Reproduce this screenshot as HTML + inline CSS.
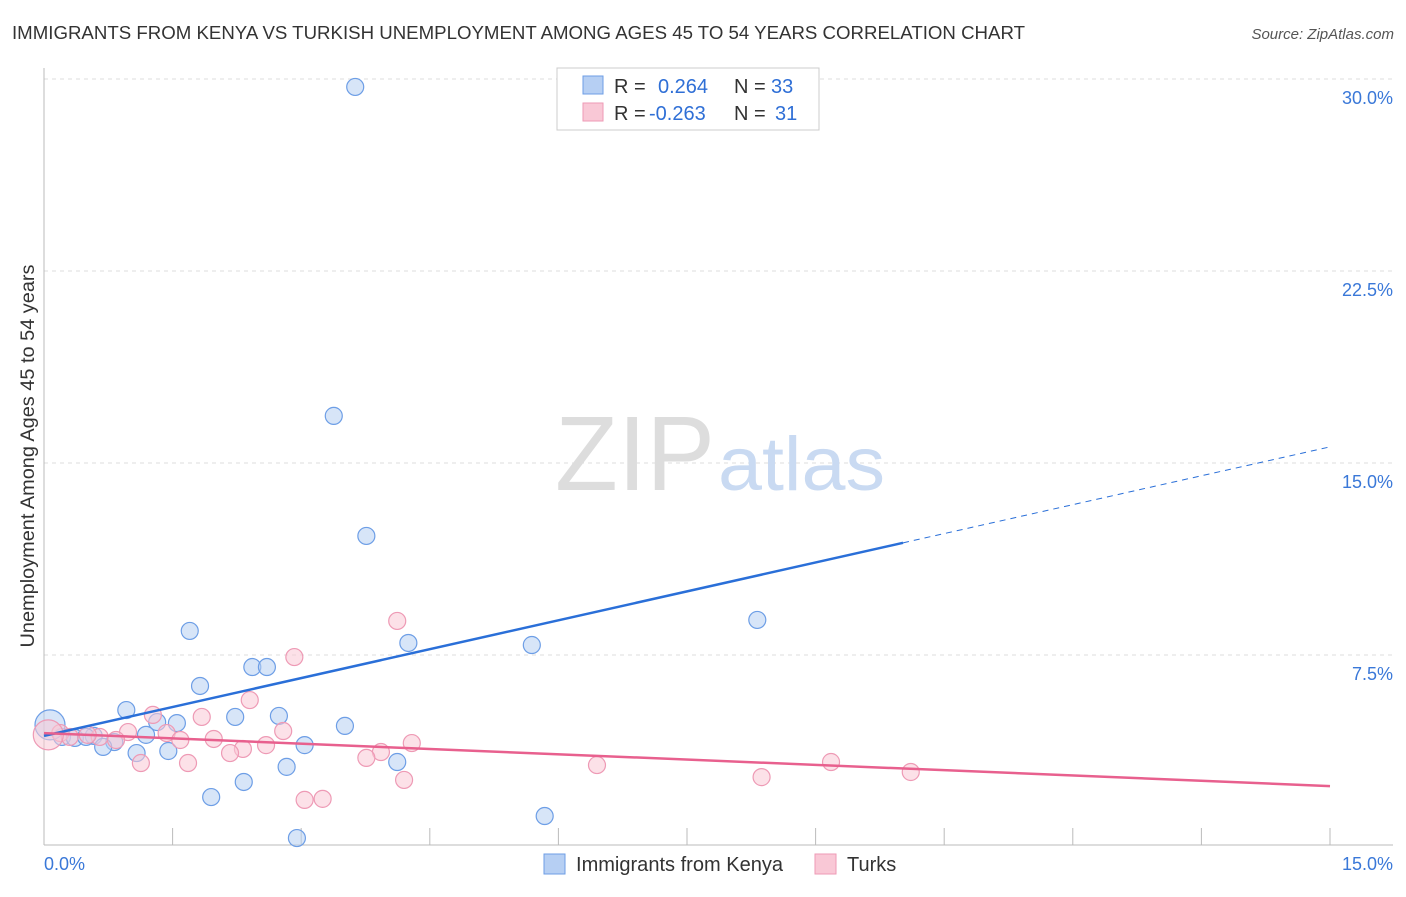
<!DOCTYPE html>
<html><head><meta charset="utf-8"><style>
body{margin:0;background:#fff;font-family:"Liberation Sans",sans-serif;}
svg text{font-family:"Liberation Sans",sans-serif;}
</style></head><body>
<svg width="1406" height="892">
<text x="12" y="39" font-size="18.5" fill="#333" textLength="1013" lengthAdjust="spacingAndGlyphs">IMMIGRANTS FROM KENYA VS TURKISH UNEMPLOYMENT AMONG AGES 45 TO 54 YEARS CORRELATION CHART</text>
<text x="1394" y="39" font-size="15" fill="#555" font-style="italic" text-anchor="end">Source: ZipAtlas.com</text>
<g id="grid"></g>
<text x="555" y="490" font-size="106" fill="#ddd" textLength="160" lengthAdjust="spacingAndGlyphs" font-family="Liberation Serif">ZIP</text>
<text x="718" y="490" font-size="76" fill="#c9daf2" textLength="167" lengthAdjust="spacingAndGlyphs">atlas</text>
<text transform="translate(34,456) rotate(-90)" font-size="19" fill="#333" text-anchor="middle" textLength="383" lengthAdjust="spacingAndGlyphs">Unemployment Among Ages 45 to 54 years</text>
<g id="marks"></g>
<g>
<rect x="557" y="68" width="262" height="62" fill="#fff" stroke="#ccc"/>
<rect x="583" y="76" width="20" height="18" fill="#b6cff3" stroke="#6d9ee6"/>
<rect x="583" y="103" width="20" height="18" fill="#f9c8d6" stroke="#ee9ab5"/>
<text x="614" y="93" font-size="20" fill="#333">R =</text>
<text x="658" y="93" font-size="20" fill="#2f6fd6">0.264</text>
<text x="734" y="93" font-size="20" fill="#333">N =</text>
<text x="771" y="93" font-size="20" fill="#2f6fd6">33</text>
<text x="614" y="120" font-size="20" fill="#333">R =</text>
<text x="649" y="120" font-size="20" fill="#2f6fd6">-0.263</text>
<text x="734" y="120" font-size="20" fill="#333">N =</text>
<text x="775" y="120" font-size="20" fill="#2f6fd6">31</text>
</g>
<g>
<rect x="544" y="854" width="21" height="20" fill="#b6cff3" stroke="#6d9ee6"/>
<text x="576" y="871" font-size="20" fill="#333" textLength="207" lengthAdjust="spacingAndGlyphs">Immigrants from Kenya</text>
<rect x="815" y="854" width="21" height="20" fill="#f9c8d6" stroke="#ee9ab5"/>
<text x="847" y="871" font-size="20" fill="#333">Turks</text>
</g>
</svg>
<script>
const xTicks=[0,15];
const yTicks=[7.5,15,22.5,30];
const blueX=[3.63,3.38,3.76,8.32,5.69,4.25,1.70,2.43,2.60,1.82,0.96,2.23,2.74,1.32,1.55,3.51,1.19,0.82,0.58,0.21,0.36,0.07,0.69,1.08,1.45,3.04,4.12,2.83,2.33,1.95,5.84,2.95,0.49];
const blueY=[29.69,16.84,12.15,8.87,7.89,7.97,8.44,7.03,7.03,6.29,5.35,5.08,5.12,4.88,4.84,4.73,4.38,4.10,4.34,4.30,4.26,4.77,3.91,3.67,3.75,3.98,3.32,3.13,2.54,1.95,1.21,0.35,4.30];
const pinkX=[4.12,2.92,2.40,1.27,1.84,2.79,0.98,1.43,1.59,1.98,0.65,0.84,0.51,0.19,0.30,2.32,2.59,2.17,4.29,3.93,3.76,1.13,1.68,4.20,6.45,8.37,9.18,10.11,3.04,3.25,0.05];
const pinkY=[8.83,7.42,5.74,5.16,5.08,4.53,4.49,4.45,4.18,4.22,4.30,4.18,4.38,4.45,4.30,3.83,3.98,3.67,4.06,3.71,3.48,3.28,3.28,2.62,3.20,2.73,3.32,2.93,1.84,1.88,4.38];
const blueTrend=[4.34,15.63];
const pinkTrend=[4.45,2.38];
const blueSolidEnd=10.02;
const NS="http://www.w3.org/2000/svg";
const X=v=>44+v*85.733, Y=v=>847-v*25.6;
function mk(t,a,p){const e=document.createElementNS(NS,t);for(const k in a)e.setAttribute(k,a[k]);p.appendChild(e);return e;}
const grid=document.getElementById('grid'), marks=document.getElementById('marks');
yTicks.forEach(v=>{
 const l=mk('line',{x1:44,x2:1393,y1:Y(v),y2:Y(v),stroke:'#ddd','stroke-dasharray':'4,4'},grid);
 
 
 const t=mk('text',{x:1393,y:Y(v)+25,'font-size':18,fill:'#3a78d8','text-anchor':'end'},grid);
 t.textContent=v.toFixed(1)+'%';
 
 
});
mk('line',{x1:44,x2:44,y1:68,y2:845,stroke:'#bbb'},grid);
mk('line',{x1:44,x2:1393,y1:845,y2:845,stroke:'#bbb'},grid);
for(let i=1;i<=10;i++){mk('line',{x1:X(i*1.5),x2:X(i*1.5),y1:828,y2:845,stroke:'#bbb'},grid);}
xTicks.forEach((v,i)=>{
 const t=mk('text',{x:i?1393:44,y:870,'font-size':18,fill:'#3a78d8','text-anchor':i?'end':'start'},grid);
 t.textContent=v.toFixed(1)+'%';
 
 
});
function pts(xs,ys,fill,stroke,name){
 xs.forEach((x,i)=>{
  const big=x<0.1;
  const c=mk('circle',{cx:X(x),cy:Y(ys[i]),r:big?15:8.5,fill:fill,'fill-opacity':0.55,stroke:stroke,'stroke-width':1.2},marks);
  
  
 });
}
pts(blueX,blueY,'#b6cff3','#6d9ee6','kenya-point');
pts(pinkX,pinkY,'#f9c8d6','#ee9ab5','turks-point');
const bAt=x=>blueTrend[0]+(blueTrend[1]-blueTrend[0])*x/15;
let l=mk('line',{x1:X(0),y1:Y(bAt(0)),x2:X(blueSolidEnd),y2:Y(bAt(blueSolidEnd)),stroke:'#2a6fd8','stroke-width':2.5},marks);


l=mk('line',{x1:X(blueSolidEnd),y1:Y(bAt(blueSolidEnd)),x2:X(15),y2:Y(bAt(15)),stroke:'#2a6fd8','stroke-width':1,'stroke-dasharray':'6,5'},marks);


l=mk('line',{x1:X(0),y1:Y(pinkTrend[0]),x2:X(15),y2:Y(pinkTrend[1]),stroke:'#e8608e','stroke-width':2.5},marks);


</script>
</body></html>
